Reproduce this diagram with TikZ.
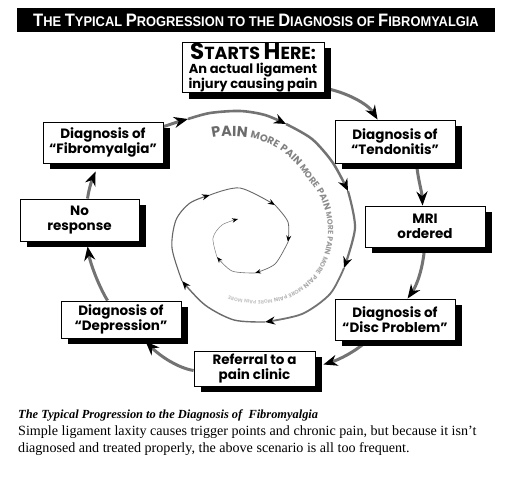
\documentclass[tikz,border=0pt]{standalone}
\usepackage{fontspec}
\setmainfont{Liberation Serif}
\newfontfamily\boxfont{Poppins}
\newfontfamily\titlefont[FakeStretch=0.92]{Liberation Sans}
\usetikzlibrary{arrows.meta,decorations.text,calc,backgrounds}
\newcommand{\Tcap}[1]{{\fontsize{18}{18}\selectfont #1}}
\newcommand{\Scap}[1]{{\fontsize{23}{23}\selectfont #1}}
\newcommand{\pf}[2]{\boxfont\bfseries\fontsize{#1}{#1}\selectfont\color{black!#2}}
\newcommand{\gapsp}{\hspace{0.3em}}
\begin{document}
\begin{tikzpicture}[x=1pt,y=-1pt,
  box/.style={draw=black, line width=0.9pt, fill=white, align=center, inner sep=1pt,
    font=\boxfont\bfseries\fontsize{13.5}{15}\selectfont},
  shadowfill/.style={fill=black},
  conn/.style={draw=black!55, line width=3pt, -{Stealth[length=14pt,width=11pt,black]}},
  spir/.style n args={4}{draw=#1, line width=#2pt, -{Stealth[length=#3pt,width=#4pt,black]}},
  capline/.style={anchor=base west, inner sep=0pt},
  declare function={rb(\t)=76+24*max(0,(-45-\t)/65)-7*min(1,max(0,(\t-35)/55));},
]
\useasboundingbox (0,0) rectangle (513,481);

% title
\node[fill=black, text=white, minimum width=478pt, minimum height=24pt, inner sep=0pt,
  font=\titlefont\bfseries\fontsize{14}{14}\selectfont] (title) at (256,20)
  {\Tcap{T}HE \Tcap{T}YPICAL \Tcap{P}ROGRESSION TO THE \Tcap{D}IAGNOSIS OF \Tcap{F}IBROMYALGIA};

% boxes
\node[box, minimum width=142pt, minimum height=49pt, font=\boxfont\bfseries\fontsize{13}{13.5}\selectfont] (starts) at (253,67.5)
  {{\fontsize{17.5}{17.5}\selectfont\Scap{S}TARTS \Scap{H}ERE:}\\[0pt]An actual ligament\\injury causing pain};
\node[box, minimum width=120pt, minimum height=43pt] (tend) at (395,141.5) {Diagnosis of\\“Tendonitis”};
\node[box, minimum width=120pt, minimum height=41pt] (mri) at (425,226.5) {MRI\\ordered};
\node[box, minimum width=120pt, minimum height=41pt] (disc) at (395,319.5) {Diagnosis of\\“Disc Problem”};
\node[box, minimum width=121pt, minimum height=35pt] (ref) at (254.5,368.5) {Referral to a\\pain clinic};
\node[box, minimum width=120pt, minimum height=37pt] (dep) at (121,319.5) {Diagnosis of\\“Depression”};
\node[box, minimum width=119pt, minimum height=42pt] (nores) at (79.5,220) {No\\response};
\node[box, minimum width=120pt, minimum height=41pt] (fibro) at (103,142.5) {Diagnosis of\\“Fibromyalgia”};

\coordinate (sp0) at (188,119);

\begin{scope}[on background layer]
\fill[white] (0,0) rectangle (513,481);
\draw[conn] ($(starts.south east)+(0,-5)$) .. controls (346,92) and (368,104) .. ($(tend.north west)+(43,0)$);
\draw[conn] ($(tend.south west)+(82,0)$) .. controls (418,180) and (422,192) .. ($(mri.north west)+(58,0)$);
\draw[conn] ($(mri.south west)+(60,0)$) .. controls (423,268) and (417,285) .. ($(disc.north west)+(73,0)$);
\draw[conn] ($(disc.south west)+(33,0)$) .. controls (355,352) and (338,360) .. ($(ref.east)+(8,-4)$);
\draw[conn] ($(ref.west)+(0,2)$) .. controls (178,368) and (160,356) .. ($(dep.south west)+(85,3)$);
\draw[conn] ($(dep.north west)+(47,0)$) .. controls (98,285) and (90,262) .. ($(nores.south west)+(68,5)$);
\draw[conn] ($(nores.north west)+(68,0)$) .. controls (89,188) and (92,180) .. ($(fibro.south west)+(53,8)$);
\draw[conn] ($(fibro.north east)+(0,5)$) .. controls (172,124) and (180,121) .. (sp0);
\foreach \n in {starts,tend,mri,disc,ref,dep,nores,fibro}
  \fill[shadowfill] ($(\n.south west)+(7,6)$) rectangle ($(\n.north east)+(7,6)$);
\end{scope}

% spiral
\draw[spir={black!55}{2.6}{12}{10}] plot[smooth] coordinates {(sp0) (210,113) (240,111) (265,115) (286,124)};
\draw[spir={black!55}{2.5}{12}{10}] plot[smooth] coordinates {(286,124) (312,139) (333,163) (348,191)};
\draw[spir={black!55}{2.2}{11}{9}] plot[smooth] coordinates {(348,191) (355,228) (344,268)};
\draw[spir={black!55}{1.8}{10}{8}] plot[smooth] coordinates {(344,268) (330,294) (302,314) (265,322)};
\draw[spir={black!58}{1.4}{9}{7}] plot[smooth] coordinates {(265,322) (234,320) (205,305) (182,281)};
\draw[spir={black!60}{1.1}{8}{6}] plot[smooth] coordinates {(182,281) (172,248) (176,220) (190,203) (210,195)};
\draw[spir={black!60}{0.9}{7}{5.5}] plot[smooth] coordinates {(210,195) (240,188) (275,205)};
\draw[spir={black!60}{0.8}{6.5}{5}] plot[smooth] coordinates {(275,205) (288,222) (288,242)};
\draw[spir={black!60}{0.7}{6}{4.5}] plot[smooth] coordinates {(288,242) (275,264) (255,273)};
\draw[spir={black!55}{0.6}{6}{4.5}] plot[smooth] coordinates {(255,273) (232,271) (217,257)};
\draw[spir={black!50}{0.5}{6}{4.5}] plot[smooth] coordinates {(217,257) (213,238) (222,225) (238,219)};

% text along spiral (polyline path)
\path[decorate, decoration={text along path, text align=left,
  text={|\pf{14.5}{58}|PAIN|\pf{10}{50}|{\gapsp}MORE{\gapsp}PAIN|\pf{9}{46}|{\gapsp}MORE{\gapsp}PAIN|\pf{7.5}{40}|{\gapsp}MORE{\gapsp}PAIN|\pf{6.5}{34}|{\gapsp}MORE{\gapsp}PAIN|\pf{5.5}{28}|{\gapsp}MORE{\gapsp}PAIN|\pf{5}{22}|{\gapsp}MORE{\gapsp}PAIN{\gapsp}MORE{\gapsp}PAIN{\gapsp}MORE{\gapsp}PAIN{\gapsp}MORE{\gapsp}PAIN}}]
  plot[domain=-113:112, samples=90, variable=\t] ({252+rb(\t)*cos(\t)}, {231+rb(\t)*sin(\t)});

% caption
\node[capline, font=\fontsize{12.4}{17}\selectfont\bfseries\itshape] (cap1) at (18,418) {The Typical Progression to the Diagnosis of~ Fibromyalgia};
\node[capline, font=\fontsize{14.1}{17}\selectfont] (cap2) at (18,435) {Simple ligament laxity causes trigger points and chronic pain, but because it isn’t};
\node[capline, font=\fontsize{14.1}{17}\selectfont] (cap3) at (18,452) {diagnosed and treated properly, the above scenario is all too frequent.};
\end{tikzpicture}
\end{document}
